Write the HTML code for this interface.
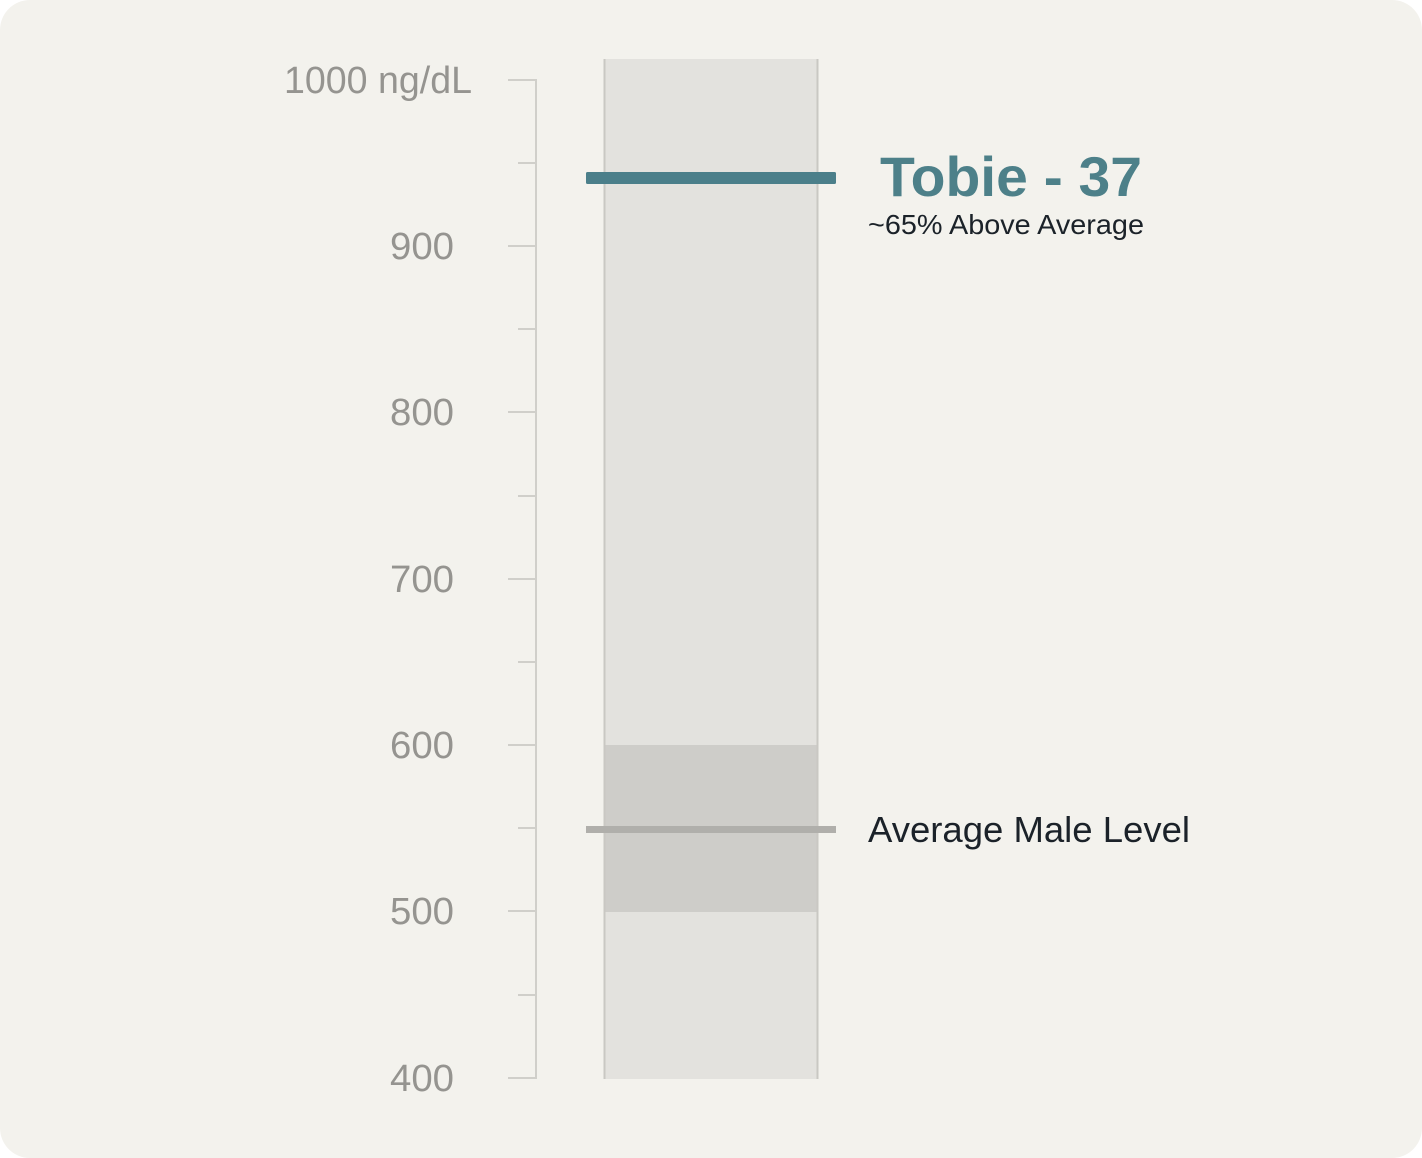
<!DOCTYPE html>
<html><head><meta charset="utf-8"><style>
html,body{margin:0;padding:0;background:#ffffff;}
svg{display:block;}
</style></head><body>
<svg width="1422" height="1158" viewBox="0 0 1422 1158" xmlns="http://www.w3.org/2000/svg">
<rect x="0" y="0" width="1422" height="1158" rx="30" ry="30" fill="#f3f2ed"/>
<!-- bar -->
<rect x="604" y="59" width="214" height="1020" fill="#e3e2de"/>
<rect x="604" y="745" width="214" height="167" fill="#cecdc9"/>
<line x1="604.5" y1="59" x2="604.5" y2="1079" stroke="#c9c8c3" stroke-width="2"/>
<line x1="817.5" y1="59" x2="817.5" y2="1079" stroke="#c9c8c3" stroke-width="2"/>
<!-- axis -->
<g stroke="#d0cfca" stroke-width="2" fill="none">
<line x1="536" y1="79" x2="536" y2="1079"/>
<line x1="508" y1="80" x2="537" y2="80"/>
<line x1="508" y1="246" x2="537" y2="246"/>
<line x1="508" y1="412" x2="537" y2="412"/>
<line x1="508" y1="579" x2="537" y2="579"/>
<line x1="508" y1="745" x2="537" y2="745"/>
<line x1="508" y1="911" x2="537" y2="911"/>
<line x1="508" y1="1078" x2="537" y2="1078"/>
<line x1="518" y1="163" x2="537" y2="163"/>
<line x1="518" y1="329" x2="537" y2="329"/>
<line x1="518" y1="496" x2="537" y2="496"/>
<line x1="518" y1="662" x2="537" y2="662"/>
<line x1="518" y1="828" x2="537" y2="828"/>
<line x1="518" y1="995" x2="537" y2="995"/>
</g>
<g font-family="Liberation Sans, sans-serif" font-size="38" fill="#959490" lengthAdjust="spacingAndGlyphs">
<text x="284" y="93" textLength="188" lengthAdjust="spacingAndGlyphs">1000 ng/dL</text>
<text x="390" y="259" textLength="64" lengthAdjust="spacingAndGlyphs">900</text>
<text x="390" y="425" textLength="64" lengthAdjust="spacingAndGlyphs">800</text>
<text x="390" y="592" textLength="64" lengthAdjust="spacingAndGlyphs">700</text>
<text x="390" y="758" textLength="64" lengthAdjust="spacingAndGlyphs">600</text>
<text x="390" y="924" textLength="64" lengthAdjust="spacingAndGlyphs">500</text>
<text x="390" y="1091" textLength="64" lengthAdjust="spacingAndGlyphs">400</text>
</g>
<!-- lines -->
<rect x="586" y="172" width="250" height="12" rx="1.5" fill="#4b7f8a"/>
<rect x="586" y="826" width="250" height="7" fill="#b0afab"/>
<!-- labels -->
<text x="880" y="196" font-family="Liberation Sans, sans-serif" font-weight="bold" font-size="56" fill="#4d8089" textLength="262" lengthAdjust="spacingAndGlyphs">Tobie - 37</text>
<text x="868" y="234" font-family="Liberation Sans, sans-serif" font-size="28" fill="#1b2229" textLength="276" lengthAdjust="spacingAndGlyphs">~65% Above Average</text>
<text x="868" y="842" font-family="Liberation Sans, sans-serif" font-size="36" fill="#1b2229" textLength="322" lengthAdjust="spacingAndGlyphs">Average Male Level</text>
</svg>
</body></html>
